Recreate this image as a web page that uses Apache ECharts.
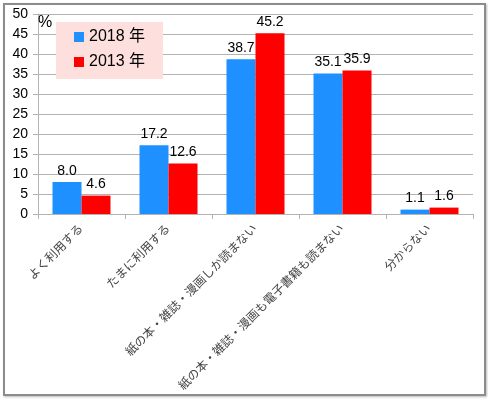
<!DOCTYPE html>
<html>
<head>
<meta charset="utf-8">
<script src="https://cdn.jsdelivr.net/npm/echarts@6/dist/echarts.min.js"></script>
<style>
  html, body { margin: 0; padding: 0; background: #fff; }
  #frame { position: absolute; left: 3px; top: 3px; width: 479px; height: 389px; border: 2px solid #8c8c8c; box-shadow: 1px 1px 2px #bbb; }
  #chart { position: absolute; left: 0; top: 0; width: 488px; height: 399px; }
</style>
</head>
<body>
<div id="frame"></div>
<div id="chart"></div>
<script>
// 電子書籍の利用状況 (%)
const categories = [
  "よく利用する",
  "たまに利用する",
  "紙の本・雑誌・漫画しか読まない",
  "紙の本・雑誌・漫画も電子書籍も読まない",
  "分からない"
];
const values2018 = [8.0, 17.2, 38.7, 35.1, 1.1];
const values2013 = [4.6, 12.6, 45.2, 35.9, 1.6];
const seriesNames = ["2018 年", "2013 年"];

const font = "'Liberation Sans', 'Noto Sans CJK JP', sans-serif";

const chart = echarts.init(document.getElementById("chart"));

const valueLabel = {
  show: true,
  position: "top",
  distance: 4,
  color: "#000",
  fontSize: 14,
  fontFamily: font,
  formatter: (p) => p.value.toFixed(1)
};

chart.setOption({
  animation: false,
  title: {
    text: "%",
    left: 33,
    top: 10,
    textStyle: { fontSize: 16, fontWeight: "normal", color: "#000", fontFamily: font }
  },
  legend: {
    orient: "vertical",
    left: 56,
    top: 22,
    padding: [7, 18, 9, 18],
    itemGap: 9,
    itemWidth: 10,
    itemHeight: 10,
    icon: "rect",
    backgroundColor: "#fde0dd",
    textStyle: { fontSize: 16, color: "#000", fontFamily: font },
    data: seriesNames
  },
  grid: { left: 38, right: 15, top: 14, bottom: 185, containLabel: false },
  xAxis: {
    type: "category",
    data: categories,
    axisLine: { lineStyle: { color: "#b3b3b3", width: 1 } },
    axisTick: { show: true, length: 5, lineStyle: { color: "#b3b3b3" } },
    axisLabel: {
      rotate: 45,
      interval: 0,
      margin: 13,
      fontSize: 12,
      color: "#444",
      fontFamily: font
    }
  },
  yAxis: {
    type: "value",
    min: 0,
    max: 50,
    interval: 5,
    axisLine: { show: true, lineStyle: { color: "#b3b3b3" } },
    axisTick: { show: true, length: 5, lineStyle: { color: "#b3b3b3" } },
    splitLine: { lineStyle: { color: "#b3b3b3" } },
    axisLabel: { fontSize: 14, color: "#000", margin: 10, fontFamily: font }
  },
  series: [
    {
      name: seriesNames[0],
      type: "bar",
      data: values2018,
      barWidth: 29,
      barGap: "0%",
      itemStyle: { color: "#1e90ff" },
      label: valueLabel
    },
    {
      name: seriesNames[1],
      type: "bar",
      data: values2013,
      barWidth: 29,
      barGap: "0%",
      itemStyle: { color: "#ff0000" },
      label: valueLabel
    }
  ]
});
</script>
</body>
</html>
